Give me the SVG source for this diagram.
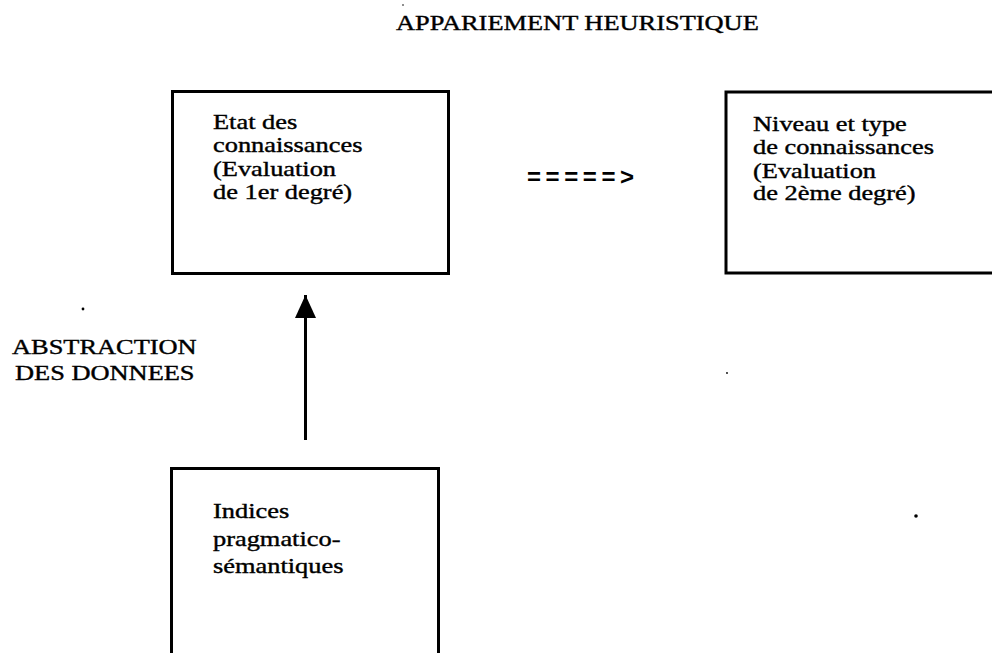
<svg xmlns="http://www.w3.org/2000/svg" width="992" height="653" viewBox="0 0 992 653">
<style>
.box{fill:#fff;stroke:#000;stroke-width:3}
.t{font-family:"Liberation Serif","Times New Roman",serif;font-size:22px;fill:#000;stroke:#000;stroke-width:0.4}
.conn{stroke:#000;stroke-width:3;fill:none}
.dot{fill:#000}
</style>
<defs>
<marker id="head" markerUnits="userSpaceOnUse" viewBox="0 0 23 21" markerWidth="23" markerHeight="21" refX="23" refY="10.5" orient="auto">
<path d="M0,0 L23,10.5 L0,21 z" fill="#000"/>
</marker>
</defs>
<rect width="992" height="653" fill="#fff"/>
<g id="title">
<text class="t" transform="translate(396,30) scale(1.2,1)">APPARIEMENT HEURISTIQUE</text>
</g>
<g id="etat">
<rect class="box" x="172.5" y="91.5" width="276" height="182"/>
<text class="t" transform="translate(213,129) scale(1.2,1)"><tspan x="0" y="0">Etat des</tspan><tspan x="0" y="23.3">connaissances</tspan><tspan x="0" y="46.6">(Evaluation</tspan><tspan x="0" y="70">de 1er degré)</tspan></text>
</g>
<g id="niveau">
<rect class="box" x="726" y="92" width="300" height="181"/>
<text class="t" transform="translate(753,131) scale(1.2,1)"><tspan x="0" y="0">Niveau et type</tspan><tspan x="0" y="23.3">de connaissances</tspan><tspan x="0" y="46.6">(Evaluation</tspan><tspan x="0" y="69.5">de 2ème degré)</tspan></text>
</g>
<g id="indices">
<rect class="box" x="171.5" y="468.5" width="267" height="220"/>
<text class="t" transform="translate(213,518) scale(1.2,1)"><tspan x="0" y="0">Indices</tspan><tspan x="0" y="28">pragmatico-</tspan><tspan x="0" y="55">sémantiques</tspan></text>
</g>
<g id="abstraction">
<text class="t" transform="translate(12,354) scale(1.2,1)">ABSTRACTION</text>
<text class="t" transform="translate(15,380) scale(1.2,1)">DES DONNEES</text>
</g>
<g id="connectors">
<line class="conn" x1="305.5" y1="440" x2="305.5" y2="295" marker-end="url(#head)"/>
<text x="527" y="185" font-family="Liberation Sans, Arial, sans-serif" font-weight="bold" font-size="24" letter-spacing="4.6">=====&gt;</text>
</g>
<g id="specks">
<circle class="dot" cx="403" cy="5" r="0.8"/>
<circle class="dot" cx="83" cy="309" r="1.4"/>
<circle class="dot" cx="727" cy="373" r="0.9"/>
<circle class="dot" cx="916" cy="516" r="1.8"/>
</g>
</svg>
